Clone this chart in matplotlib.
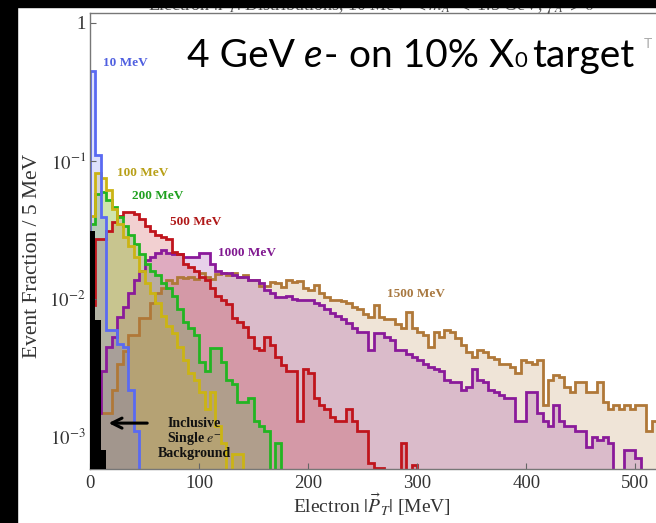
import numpy as np
import matplotlib
matplotlib.use('Agg')
import matplotlib.pyplot as plt
from matplotlib.patches import Rectangle
from matplotlib.ticker import NullLocator

plt.rcParams['mathtext.fontset'] = 'stix'
plt.rcParams['font.family'] = ['Liberation Serif', 'DejaVu Serif']

# event fraction per 5 MeV bin, first bin starts at 0 MeV
bin_width = 5
frac_10 = [0.45, 0.11, 0.039, 0.006, 0.006, 0.0047, 0.0045, 0.0022, 0.0011]
frac_100 = [0.04, 0.082, 0.075, 0.062, 0.045, 0.035, 0.028, 0.024, 0.02, 0.016,
            0.013, 0.011, 0.0093, 0.0075, 0.0064, 0.0057, 0.0045, 0.0036, 0.0029, 0.0026,
            0.0021, 0.0016, 0.0021, 0.0012, 0.0009, 0.0, 0.00075, 0.00075]
frac_200 = [0.035, 0.058, 0.06, 0.052, 0.046, 0.039, 0.034, 0.029, 0.025, 0.021,
            0.018, 0.016, 0.015, 0.013, 0.012, 0.0105, 0.0085, 0.0068, 0.0062, 0.0055,
            0.0035, 0.003, 0.0044, 0.0044, 0.0035, 0.0026, 0.0024, 0.0018, 0.0018, 0.0019,
            0.0013, 0.0012, 0.0011, 0.0, 0.0009]
frac_500 = [0.009, 0.027, 0.027, 0.031, 0.036, 0.04, 0.043, 0.043, 0.041, 0.038,
            0.034, 0.031, 0.029, 0.028, 0.027, 0.022, 0.021, 0.018, 0.017, 0.016,
            0.0145, 0.0137, 0.012, 0.0105, 0.0098, 0.0092, 0.0073, 0.0068, 0.0063, 0.0053,
            0.0044, 0.0043, 0.0053, 0.0046, 0.0038, 0.0033, 0.003, 0.003, 0.0013, 0.0031,
            0.0029, 0.0019, 0.0017, 0.0016, 0.0014, 0.0013, 0.0013, 0.0016, 0.0013, 0.0011,
            0.0011, 0.00065, 0.0006, 0.0006, 0.00058, 0.0, 0.0, 0.0009, 0.0, 0.00063]
frac_1000 = [0.0008, 0.0015, 0.003, 0.0045, 0.0053, 0.0074, 0.0087, 0.011, 0.0137, 0.016,
             0.019, 0.02, 0.0215, 0.0225, 0.0215, 0.021, 0.021, 0.02, 0.02, 0.02,
             0.0215, 0.0215, 0.018, 0.016, 0.0155, 0.0154, 0.015, 0.0145, 0.0145, 0.0137,
             0.0137, 0.013, 0.0117, 0.011, 0.0103, 0.0103, 0.0105, 0.01, 0.0098, 0.0098,
             0.0098, 0.0093, 0.009, 0.0084, 0.0079, 0.0075, 0.0071, 0.0067, 0.0062, 0.0058,
             0.0058, 0.0043, 0.0057, 0.0057, 0.0053, 0.005, 0.0043, 0.0043, 0.004, 0.0038,
             0.0036, 0.0034, 0.0032, 0.0031, 0.003, 0.0026, 0.0025, 0.0025, 0.0022, 0.0023,
             0.0031, 0.0026, 0.0025, 0.0022, 0.0021, 0.002, 0.0019, 0.0019, 0.0013, 0.0013,
             0.0021, 0.0021, 0.0015, 0.0013, 0.0012, 0.0017, 0.0013, 0.0012, 0.0012, 0.0011,
             0.0011, 0.00085, 0.001, 0.00095, 0.001, 0.0009, 0.0, 0.0, 0.0008, 0.0008,
             0.0007]
frac_1500 = [0.0008, 0.0015, 0.0015, 0.0015, 0.0022, 0.0034, 0.0042, 0.0055, 0.0055, 0.0073,
             0.0073, 0.0093, 0.011, 0.012, 0.0137, 0.013, 0.0145, 0.0142, 0.0145, 0.014,
             0.0155, 0.0145, 0.014, 0.0152, 0.0154, 0.0148, 0.0154, 0.0145, 0.0148, 0.0137,
             0.0137, 0.0125, 0.0125, 0.0132, 0.013, 0.0122, 0.0137, 0.0132, 0.0135, 0.012,
             0.0117, 0.0127, 0.011, 0.0104, 0.0098, 0.0098, 0.0096, 0.0093, 0.0087, 0.0084,
             0.0078, 0.0074, 0.009, 0.0074, 0.0072, 0.0071, 0.0066, 0.0062, 0.0081, 0.0062,
             0.0058, 0.0055, 0.0045, 0.0058, 0.0053, 0.006, 0.0058, 0.0052, 0.0046, 0.0041,
             0.0038, 0.0043, 0.0041, 0.0038, 0.0037, 0.0034, 0.0034, 0.0032, 0.0029, 0.0036,
             0.0035, 0.0034, 0.0036, 0.0017, 0.0026, 0.0028, 0.0027, 0.0023, 0.0021, 0.0025,
             0.0025, 0.0021, 0.0021, 0.0025, 0.0018, 0.0016, 0.0017, 0.0016, 0.0017, 0.0016,
             0.0017, 0.0017, 0.0011, 0.0013]
frac_bkg = [0.031, 0.007, 0.0008]

mass_labels = ['10 MeV', '100 MeV', '200 MeV', '500 MeV', '1000 MeV', '1500 MeV']
line_colors = ['#5a6af2', '#cbb414', '#22b522', '#c0141c', '#8a1a9a', '#b07838']
text_colors = ['#4f5fe0', '#b8a018', '#1fa01f', '#b01818', '#801890', '#a87840']
label_pos = [(12, 0.51), (25, 0.082), (38.5, 0.056), (73, 0.036), (117, 0.0216), (272, 0.0109)]

floor = 1e-6
W, H = 656, 523
fig = plt.figure(figsize=(W / 100, H / 100), dpi=100)
ax = fig.add_axes([90 / W, 1 - 469 / H, (668 - 90) / W, (469 - 13) / H])

series = [frac_10, frac_100, frac_200, frac_500, frac_1000, frac_1500]

# translucent fills first, heaviest mass at the back
for vals, col in list(zip(series, line_colors))[::-1]:
    v = np.clip(np.array(vals), floor, None)
    edges = np.arange(len(v) + 1) * bin_width
    ax.stairs(v, edges, baseline=floor, fill=True, color=col, alpha=0.2, lw=0)

for vals, col in list(zip(series, line_colors))[::-1]:
    v = np.clip(np.array(vals), floor, None)
    edges = np.arange(len(v) + 1) * bin_width
    ax.stairs(v, edges, baseline=floor, color=col, lw=2.0)

bkg = np.array(frac_bkg)
ax.stairs(bkg, np.arange(len(bkg) + 1) * bin_width, baseline=floor, fill=True,
          color='black', zorder=5)

for lab, col, (x, y) in zip(mass_labels, text_colors, label_pos):
    ax.text(x, y, lab, color=col, fontsize=9.5, fontweight='bold', va='center', ha='left')

ax.text(96, 0.00097, 'Inclusive\nSingle $e^{-}$\nBackground', fontsize=10, fontweight='bold',
        ha='center', va='center', linespacing=1.0, color='#111')
ax.annotate('', xy=(14.5, 0.00126), xytext=(55, 0.00126),
            arrowprops=dict(arrowstyle='->', color='black', lw=2.2, mutation_scale=18))

ax.set_yscale('log')
ax.set_xlim(0, 530)
ax.set_ylim(5.86e-4, 1.18)
ax.set_yticks([1e-3, 1e-2, 1e-1, 1])
ax.set_yticklabels([r'$10^{-3}$', r'$10^{-2}$', r'$10^{-1}$', '1'])
ax.yaxis.set_minor_locator(NullLocator())
ax.set_xticks([0, 100, 200, 300, 400, 500])
ax.tick_params(direction='in', length=4, color='#666', labelsize=13.5, labelcolor='#333')
ax.tick_params(axis='y', pad=3)
ax.tick_params(axis='x', pad=4)
for s in ax.spines.values():
    s.set_color('#777')
    s.set_linewidth(1.0)

fig.text(372 / W, 1 - 505 / H, r'Electron $|\vec{P}_T|$ [MeV]', fontsize=14,
         ha='center', va='center', color='#333')
fig.text(33 / W, 1 - 256 / H, 'Event Fraction / 5 MeV', fontsize=15.5, rotation=90,
         ha='center', va='center', color='#333')

# original plot title, mostly under the dark band
fig.text(372 / W, 1 - 11 / H, r'Electron $|\vec{P}_T|$ Distributions, 10 MeV $< m_{A^\prime} <$ 1.5 GeV, $\gamma_{A^\prime} > 0$',
         fontsize=13, ha='center', va='baseline', color='#555', zorder=1)

# slide caption laid out piece by piece (italic e, small 0)
cap_font = ['Lato', 'DejaVu Sans']
renderer = fig.canvas.get_renderer()
x_px = 187
base = 1 - 67 / H
pieces = [('4 GeV', {}, 9), ('e', dict(style='italic'), 1), ('-', {}, 11),
          ('on 10% X', {}, 0), ('0', dict(fontsize=16), 5), ('target', {}, 9)]
for txt, kw, gap in pieces:
    opts = dict(fontsize=28, family=cap_font, color='black', va='baseline', ha='left')
    opts.update(kw)
    t = fig.text(x_px / W, base, txt, **opts)
    x_px += t.get_window_extent(renderer).width + gap
fig.text(x_px / W, 1 - 48 / H, 'T', fontsize=10, family=cap_font, color='#aaa',
         va='baseline', ha='left')

fig.patches.append(Rectangle((0, 0), 17 / W, 1, transform=fig.transFigure,
                             color='black', zorder=10))
fig.patches.append(Rectangle((0, 1 - 7 / H), 1, 7 / H, transform=fig.transFigure,
                             color='black', zorder=10))

fig.savefig('out.png', dpi=100)
